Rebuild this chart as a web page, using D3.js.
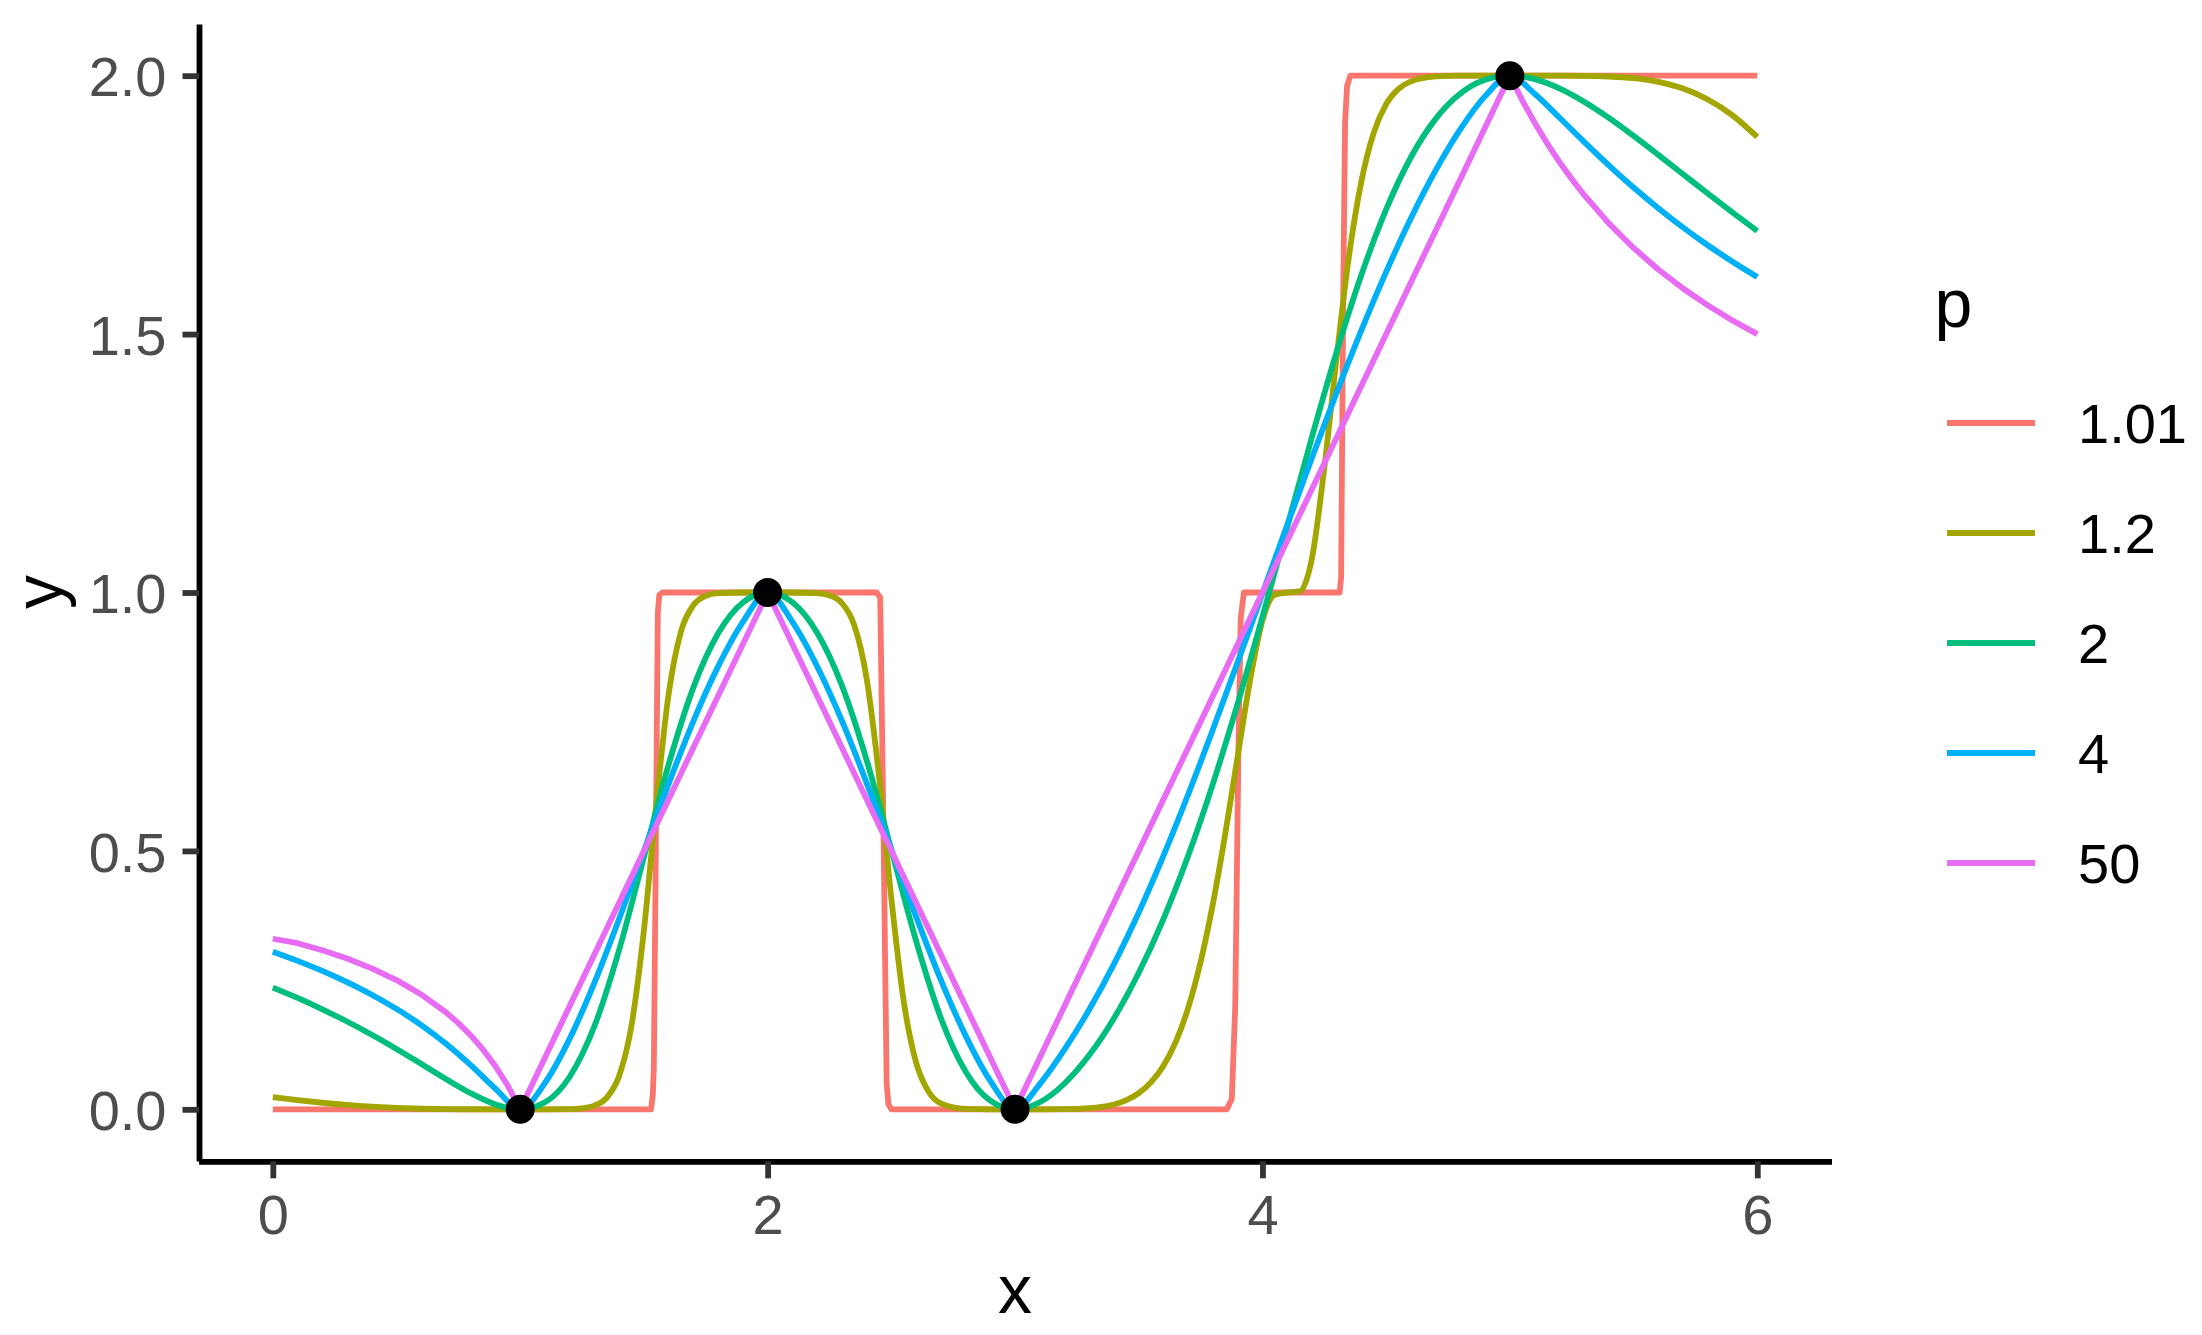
<!DOCTYPE html>
<html><head><meta charset="utf-8">
<script src="https://cdn.jsdelivr.net/npm/d3@7"></script>
<style>
body{margin:0;background:#fff}
svg{display:block}
text{font-family:"Liberation Sans",Arial,Helvetica,sans-serif}
</style>
</head><body>
<svg id="chart" width="2202" height="1335"></svg>
<script>
// ---- data ----
const xGrid = [0,0.1,0.2,0.3,0.4,0.5,0.6,0.7,0.8,0.9,1,
  1.1,1.2,1.3,1.4,1.5,1.6,1.7,1.8,1.9,2,
  2.1,2.2,2.3,2.4,2.5,2.6,2.7,2.8,2.9,3,
  3.1,3.2,3.3,3.4,3.5,3.6,3.7,3.8,3.9,4,
  4.1,4.2,4.3,4.4,4.5,4.6,4.7,4.8,4.9,5,
  5.1,5.2,5.3,5.4,5.5,5.6,5.7,5.8,5.9,6];

const yP2 = [0.2355,0.2155,0.1936,0.1699,0.1442,0.1167,0.0878,0.0586,0.0311,0.0094,0,
  0.0135,0.0631,0.1611,0.3088,0.4883,0.6674,0.8164,0.9211,0.9808,1,
  0.981,0.9222,0.8202,0.6758,0.5021,0.3258,0.1767,0.073,0.0166,0,
  0.0136,0.05,0.1049,0.1763,0.2641,0.3687,0.4909,0.6303,0.7855,0.9529,
  1.1271,1.3008,1.4659,1.6147,1.7413,1.8422,1.9164,1.9654,1.992,2,
  1.9933,1.9754,1.9495,1.9182,1.8834,1.8467,1.8093,1.7719,1.7352,1.6995];

const yP4 = [0.305,0.2873,0.2678,0.2461,0.2218,0.1943,0.163,0.1269,0.0855,0.0398,0,
  0.0511,0.1368,0.2451,0.3688,0.4999,0.6301,0.7513,0.857,0.9431,1,
  0.9432,0.8573,0.752,0.6316,0.5025,0.3729,0.2506,0.1426,0.055,0,
  0.0488,0.1158,0.1931,0.2814,0.3809,0.4908,0.6096,0.7353,0.8655,0.998,
  1.1306,1.2608,1.3872,1.5077,1.6204,1.7243,1.8168,1.8966,1.9604,2,
  1.965,1.9191,1.872,1.8266,1.7836,1.7436,1.7063,1.6719,1.64,1.6104];

const xP50 = [0,0.1,0.2,0.3,0.4,0.5,0.6,0.7,0.75,0.8,0.85,0.9,0.95,1,
  2,3,5,5.05,5.1,5.15,5.2,5.25,5.3,5.4,5.5,5.6,5.7,5.8,5.9,6];
const yP50 = [0.330,0.3214,0.3077,0.2917,0.2727,0.25,0.2222,0.1875,0.1667,0.1429,0.1154,0.0833,0.0455,0,
  1,0,2,1.9524,1.9091,1.8696,1.8333,1.8,1.7692,1.7143,1.6667,1.625,1.5882,1.5556,1.5263,1.5];

const xP12 = [0,0.1,0.2,0.3,0.4,0.5,0.6,0.7,0.8,0.9,1,1.1,1.2,1.25,1.3,1.35,1.4,1.45,1.5,1.55,1.6,1.65,1.7,1.75,1.8,1.9,2,
  2.1,2.2,2.25,2.3,2.35,2.4,2.45,2.5,2.55,2.6,2.65,2.7,2.8,2.9,3,3.1,3.2,3.3,3.35,3.4,3.45,3.5,3.55,3.6,3.65,3.7,3.75,
  3.8,3.85,3.9,3.95,4,4.05,4.1,4.15,4.2,4.25,4.3,4.35,4.4,4.45,4.5,4.55,4.6,4.7,4.8,4.9,5,5.1,5.2,5.3,5.4,5.5,5.6,5.7,5.8,5.9,6];
const yP12 = [0.0236,0.0178,0.0127,0.0084,0.0051,0.0027,0.0011,0.0003,0.0001,0,0,0,0.0004,0.0019,0.0071,0.0227,0.0649,0.1629,0.3466,0.5918,0.8039,0.925,0.9755,0.9934,0.9986,1,1,
  1,0.9987,0.9943,0.9795,0.9368,0.8341,0.6455,0.408,0.2091,0.0905,0.0344,0.0115,0.0007,0,0,0,0.0002,0.0021,0.0047,0.0094,0.0177,0.0312,0.0525,0.0844,0.131,0.1966,0.2852,
  0.3984,0.5342,0.6837,0.83,0.9457,0.9958,1,1.002,1.066,1.241,1.456,1.652,1.796,1.89,1.945,1.9745,1.989,1.9985,2,2,2,2,2,1.9997,1.9984,1.9951,1.988,1.975,1.954,1.9233,1.8814];

const xP101 = [0,1.529,1.536,1.540,1.548,1.556,1.562,1.575,2.441,2.455,2.468,2.481,2.488,2.50,
  3.856,3.876,3.890,3.903,3.912,3.925,4.312,4.318,4.327,4.334,4.342,4.355,6];
const yP101 = [0,0,0.03,0.08,0.5,0.96,0.995,1,1,0.99,0.55,0.05,0.01,0,
  0,0.02,0.2,0.7,0.95,1,1,1.03,1.6,1.91,1.98,2,2];

const pointX = [1,2,3,5];
const pointY = [0,1,0,2];

const seriesLabels = ["1.01","1.2","2","4","50"];
const seriesColors = ["#F8766D","#A3A500","#00BF7D","#00B0F6","#E76BF3"];
const xTickValues = [0,2,4,6];
const yTickValues = [0,0.5,1,1.5,2];

// ---- drawing ----
const svg = d3.select("#chart");
svg.append("rect").attr("width",2202).attr("height",1335).attr("fill","#fff");

const x = d3.scaleLinear().domain([-0.3,6.3]).range([198.6,1831.5]);
const y = d3.scaleLinear().domain([-0.1,2.1]).range([1161,24]);

const series = [
  {xs:xP101, ys:yP101, curve:d3.curveLinear},
  {xs:xP12,  ys:yP12,  curve:d3.curveMonotoneX},
  {xs:xGrid, ys:yP2,   curve:d3.curveMonotoneX},
  {xs:xGrid, ys:yP4,   curve:d3.curveMonotoneX},
  {xs:xP50,  ys:yP50,  curve:d3.curveLinear}
];

const plot = svg.append("g");
series.forEach((s,i)=>{
  const pts = s.xs.map((v,j)=>[v,s.ys[j]]);
  const line = d3.line().x(d=>x(d[0])).y(d=>y(d[1])).curve(s.curve);
  plot.append("path").attr("d",line(pts))
    .attr("fill","none").attr("stroke",seriesColors[i])
    .attr("stroke-width",5.8).attr("stroke-linejoin","round").attr("stroke-linecap","butt");
});

plot.selectAll("circle.pt").data(pointX.map((v,i)=>[v,pointY[i]])).enter()
  .append("circle").attr("class","pt")
  .attr("cx",d=>x(d[0])).attr("cy",d=>y(d[1])).attr("r",14.5).attr("fill","#000");

// axes
const yAxis = d3.axisLeft(y).tickValues(yTickValues).tickFormat(d3.format(".1f"))
  .tickSize(16.5).tickSizeOuter(0).tickPadding(16);
const gy = svg.append("g").attr("transform","translate(199,0)").call(yAxis);
gy.select(".domain").attr("stroke","#000").attr("stroke-width",5.8);
gy.selectAll(".tick line").attr("stroke","#333333").attr("stroke-width",5.8);
gy.selectAll(".tick text").attr("fill","#4D4D4D").attr("font-size",56)
  .attr("font-family","'Liberation Sans',Arial,sans-serif").attr("dy","0.36em");

const xAxis = d3.axisBottom(x).tickValues(xTickValues).tickFormat(d3.format("d"))
  .tickSize(17).tickSizeOuter(0).tickPadding(15.5);
const gx = svg.append("g").attr("transform","translate(0,1161.3)").call(xAxis);
gx.select(".domain").attr("stroke","#000").attr("stroke-width",5.8);
gx.selectAll(".tick line").attr("stroke","#333333").attr("stroke-width",5.8);
gx.selectAll(".tick text").attr("fill","#4D4D4D").attr("font-size",56)
  .attr("font-family","'Liberation Sans',Arial,sans-serif");

// axis titles
svg.append("text").attr("x",1015).attr("y",1313).attr("text-anchor","middle")
  .attr("font-size",68).attr("fill","#000").text("x");
svg.append("text").attr("transform","translate(62,592) rotate(-90)").attr("text-anchor","middle")
  .attr("font-size",68).attr("fill","#000").text("y");

// legend
const lg = svg.append("g");
lg.append("text").attr("x",1934.5).attr("y",327).attr("font-size",68).attr("fill","#000").text("p");
seriesLabels.forEach((lab,i)=>{
  const cy = 423 + 110*i;
  lg.append("line").attr("x1",1947).attr("x2",2035).attr("y1",cy).attr("y2",cy)
    .attr("stroke",seriesColors[i]).attr("stroke-width",5.8);
  lg.append("text").attr("x",2078).attr("y",cy+20).attr("font-size",56).attr("fill","#000").text(lab);
});
</script>
</body></html>
